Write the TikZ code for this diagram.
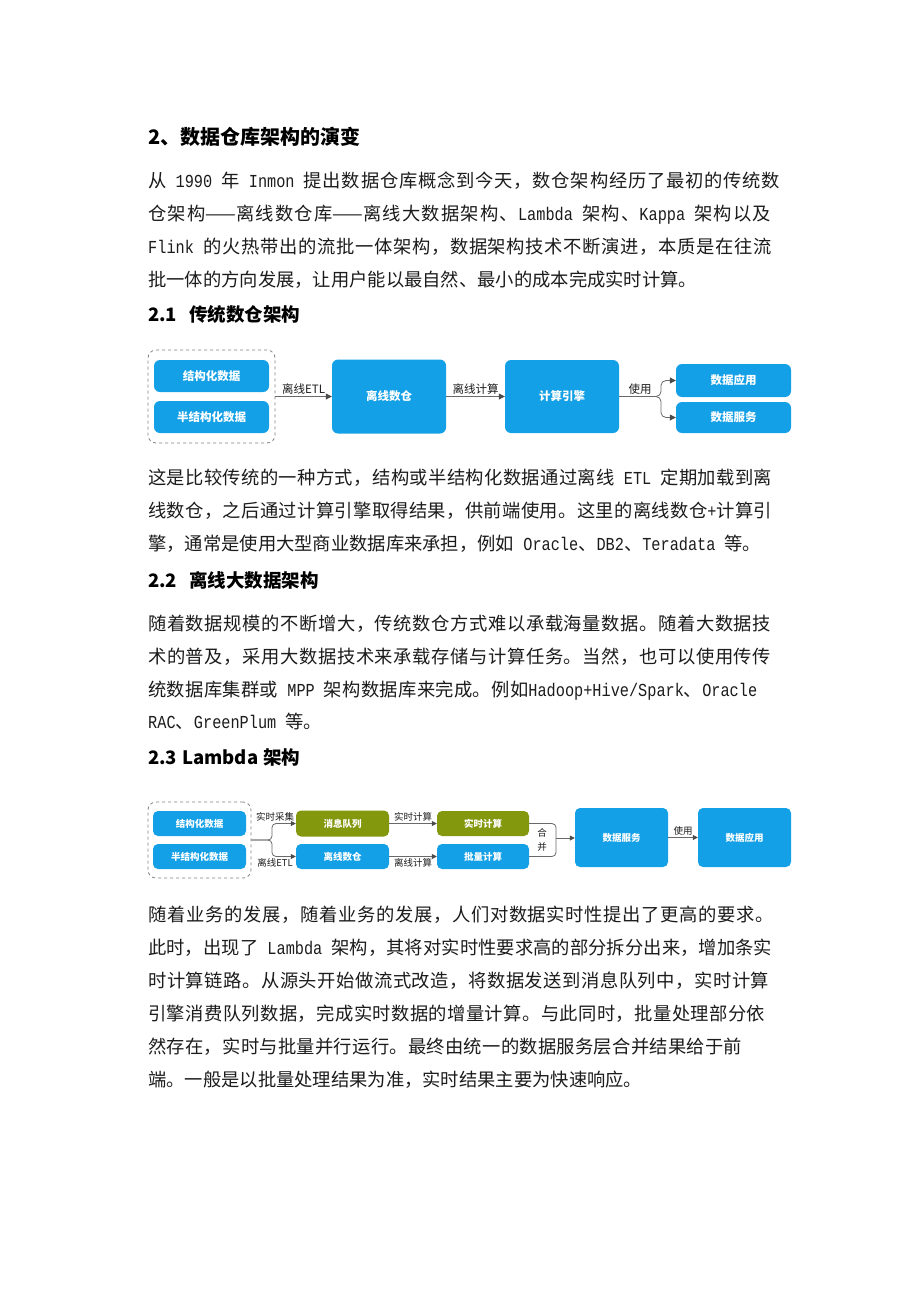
\documentclass[tikz,border=0pt]{standalone}
\usepackage{fontspec}
\setmainfont{Noto Sans CJK SC}
\newfontfamily\latf[FakeStretch=0.8333]{Liberation Mono}
\usetikzlibrary{arrows.meta}
\definecolor{bluebox}{RGB}{20,160,230}
\definecolor{olivebox}{RGB}{132,152,14}
\definecolor{linec}{RGB}{105,105,105}
\definecolor{tipc}{RGB}{75,75,75}
\definecolor{txt}{RGB}{28,28,28}
\definecolor{dashc}{RGB}{130,130,130}
% stretchable glue between CJK characters (for justified lines)
\newcount\cjkc
\cjkc="4E00
\loop
  \XeTeXcharclass\cjkc=7
  \ifnum\cjkc<"9FFF \advance\cjkc by 1
\repeat
\XeTeXcharclass"FF0C=7 \XeTeXcharclass"3001=7 \XeTeXcharclass"3002=7
\XeTeXinterchartoks 7 7 = {\hskip 0pt plus 1pt\relax}
\XeTeXinterchartokenstate=1
\newcommand{\Lt}[1]{{\latf\spaceskip=\fontdimen2\font\relax #1}}
\newcommand{\jl}[2]{\makebox[#1pt][s]{#2}}
\newcommand{\fbody}{\fontsize{18.3}{22}\selectfont}
\newcommand{\fhd}{\fontsize{18.5}{22}\selectfont\bfseries}
\newcommand{\fhdt}{\fontsize{20}{24}\selectfont\bfseries}
\newcommand{\fbxa}{\fontsize{11.5}{14}\selectfont\bfseries}
\newcommand{\flba}{\fontsize{11.5}{14}\selectfont}
\newcommand{\fbxb}{\fontsize{9.5}{12}\selectfont\bfseries}
\newcommand{\flbb}{\fontsize{9.5}{14}\selectfont}
\tikzset{
  bodyline/.style={anchor=base west, inner sep=0pt, font=\fbody, text=txt},
  headline/.style={anchor=base west, inner sep=0pt, font=\fhd, text=black},
  bluea/.style={rectangle, rounded corners=6pt, fill=bluebox, text=white, inner sep=0pt, font=\fbxa},
  blueb/.style={rectangle, rounded corners=5pt, fill=bluebox, text=white, inner sep=0pt, font=\fbxb},
  oliveb/.style={rectangle, rounded corners=5pt, fill=olivebox, text=white, inner sep=0pt, font=\fbxb},
  groupbox/.style={rectangle, rounded corners=8pt, draw=dashc, dashed, line width=0.8pt, inner sep=0pt},
  conn/.style={draw=linec, line width=0.8pt},
  arra/.style={conn, -{Triangle[length=6pt,width=6pt,color=tipc]}},
  arrb/.style={conn, -{Triangle[length=5pt,width=5pt,color=tipc]}},
  laba/.style={font=\flba, text=txt, inner sep=1.5pt},
  labb/.style={font=\flbb, text=txt, inner sep=1.5pt},
}
\begin{document}
\begin{tikzpicture}[x=1pt,y=-1pt]
\fill[white] (0,0) rectangle (920,1302);
\useasboundingbox (0,0) rectangle (920,1302);

% ---------- heading and paragraph 1
\node[headline, font=\fhdt] (h0) at (148,144) {2、数据仓库架构的演变};
\node[bodyline] (p11) at (148,187.5) {\jl{632}{从\Lt{ 1990 }年\Lt{ Inmon }提出数据仓库概念到今天，数仓架构经历了最初的传统数}};
\node[bodyline] (p12) at (148,220.5) {\jl{623}{仓架构——离线数仓库——离线大数据架构、\Lt{Lambda }架构、\Lt{Kappa }架构以及}};
\node[bodyline] (p13) at (148,253.5) {\jl{624}{\Lt{Flink }的火热带出的流批一体架构，数据架构技术不断演进，本质是在往流}};
\node[bodyline] (p14) at (148,286.5) {批一体的方向发展，让用户能以最自然、最小的成本完成实时计算。};

% ---------- 2.1
\node[headline] (h1) at (148,321.5) {2.1\hspace{12pt}传统数仓架构};

\node[groupbox, minimum width=127pt, minimum height=93pt] (g1) at (211.5,396.5) {};
\node[bluea, minimum width=115pt, minimum height=32pt] (s1) at (211.5,376) {结构化数据};
\node[bluea, minimum width=115pt, minimum height=32pt] (s2) at (211.5,417) {半结构化数据};
\node[bluea, minimum width=114pt, minimum height=74pt] (dw) at (389,396.5) {离线数仓};
\node[bluea, minimum width=114pt, minimum height=73pt] (ce) at (562,396.5) {计算引擎};
\node[bluea, minimum width=115pt, minimum height=33pt] (app) at (733.5,380.5) {数据应用};
\node[bluea, minimum width=115pt, minimum height=31pt] (svc) at (733.5,417.5) {数据服务};

\draw[arra] (g1.east) -- node[above, laba] {离线ETL} (dw.west);
\draw[arra] (dw.east) -- node[above, laba] {离线计算} (ce.west);
\coordinate (b1) at (661,396.5);
\draw[arra, rounded corners=5pt] (ce.east) -- node[above, laba] {使用} (b1) |- (app.west);
\draw[arra, rounded corners=5pt] (ce.east) -- (b1) |- (svc.west);

% ---------- paragraph 2
\node[bodyline] (p21) at (148,484.5) {\jl{624}{这是比较传统的一种方式，结构或半结构化数据通过离线\Lt{ ETL }定期加载到离}};
\node[bodyline] (p22) at (148,517.5) {\jl{624}{线数仓，之后通过计算引擎取得结果，供前端使用。这里的离线数仓\Lt{+}计算引}};
\node[bodyline] (p23) at (148,550.5) {擎，通常是使用大型商业数据库来承担，例如\Lt{ Oracle}、\Lt{DB2}、\Lt{Teradata }等。};

% ---------- 2.2
\node[headline] (h2) at (148,587.5) {2.2\hspace{12pt}离线大数据架构};
\node[bodyline] (p31) at (148,630.5) {\jl{623}{随着数据规模的不断增大，传统数仓方式难以承载海量数据。随着大数据技}};
\node[bodyline] (p32) at (148,663.5) {\jl{623}{术的普及，采用大数据技术来承载存储与计算任务。当然，也可以使用传传}};
\node[bodyline] (p33) at (148,696.5) {\jl{609}{统数据库集群或\Lt{ MPP }架构数据库来完成。例如\Lt{Hadoop+Hive/Spark}、\Lt{Oracle}}};
\node[bodyline] (p34) at (148,728.5) {\Lt{RAC}、\Lt{GreenPlum }等。};

% ---------- 2.3
\node[headline] (h3) at (148,764.5) {2.3\hspace{5pt}Lambda\hspace{5pt}架构};

\node[groupbox, minimum width=103pt, minimum height=76pt] (g2) at (199.5,840) {};
\node[blueb, minimum width=93pt, minimum height=25pt] (t1) at (199.5,823.5) {结构化数据};
\node[blueb, minimum width=93pt, minimum height=25pt] (t2) at (199.5,856.5) {半结构化数据};
\node[oliveb, minimum width=93pt, minimum height=26pt] (mq) at (342.5,823.5) {消息队列};
\node[blueb, minimum width=93pt, minimum height=25pt] (dw2) at (342.5,856.5) {离线数仓};
\node[oliveb, minimum width=92pt, minimum height=25pt] (rt) at (483,823.5) {实时计算};
\node[blueb, minimum width=92pt, minimum height=25pt] (bt) at (483,856.5) {批量计算};
\node[blueb, minimum width=93pt, minimum height=59pt] (ds) at (621.5,837.5) {数据服务};
\node[blueb, minimum width=93pt, minimum height=59pt] (da) at (744.5,837.5) {数据应用};

\coordinate (b2) at (272,840);
\draw[arrb, rounded corners=4pt] (g2.east) -- (b2) |- node[pos=0.5, above, xshift=3pt, labb] {实时采集} (mq.west);
\draw[arrb, rounded corners=4pt] (g2.east) -- (b2) |- node[pos=0.5, below, xshift=3pt, labb] {离线ETL} (dw2.west);
\draw[arrb] (mq.east) -- node[above, labb] {实时计算} (rt.west);
\draw[arrb] (dw2.east) -- node[below, labb] {离线计算} (bt.west);
\coordinate (b3) at (556,838);
\draw[conn, rounded corners=4pt] (rt.east) -| (b3);
\draw[conn, rounded corners=4pt] (bt.east) -| (b3);
\draw[arrb] (b3) -- (ds.west |- b3);
\node[labb, align=center, font=\fontsize{9.5}{14.5}\selectfont] (mlab) at (542,840) {合\\并};
\draw[arrb] (ds.east) -- node[above, labb] {使用} (da.west);

% ---------- paragraph 4
\node[bodyline] (p41) at (148,921.5) {\jl{626}{随着业务的发展，随着业务的发展，人们对数据实时性提出了更高的要求。}};
\node[bodyline] (p42) at (148,954.5) {\jl{624}{此时，出现了\Lt{ Lambda }架构，其将对实时性要求高的部分拆分出来，增加条实}};
\node[bodyline] (p43) at (148,987.5) {\jl{621}{时计算链路。从源头开始做流式改造，将数据发送到消息队列中，实时计算}};
\node[bodyline] (p44) at (148,1020.5) {\jl{617}{引擎消费队列数据，完成实时数据的增量计算。与此同时，批量处理部分依}};
\node[bodyline] (p45) at (148,1053.5) {\jl{594}{然存在，实时与批量并行运行。最终由统一的数据服务层合并结果给于前}};
\node[bodyline] (p46) at (148,1086.5) {端。一般是以批量处理结果为准，实时结果主要为快速响应。};
\end{tikzpicture}
\end{document}
